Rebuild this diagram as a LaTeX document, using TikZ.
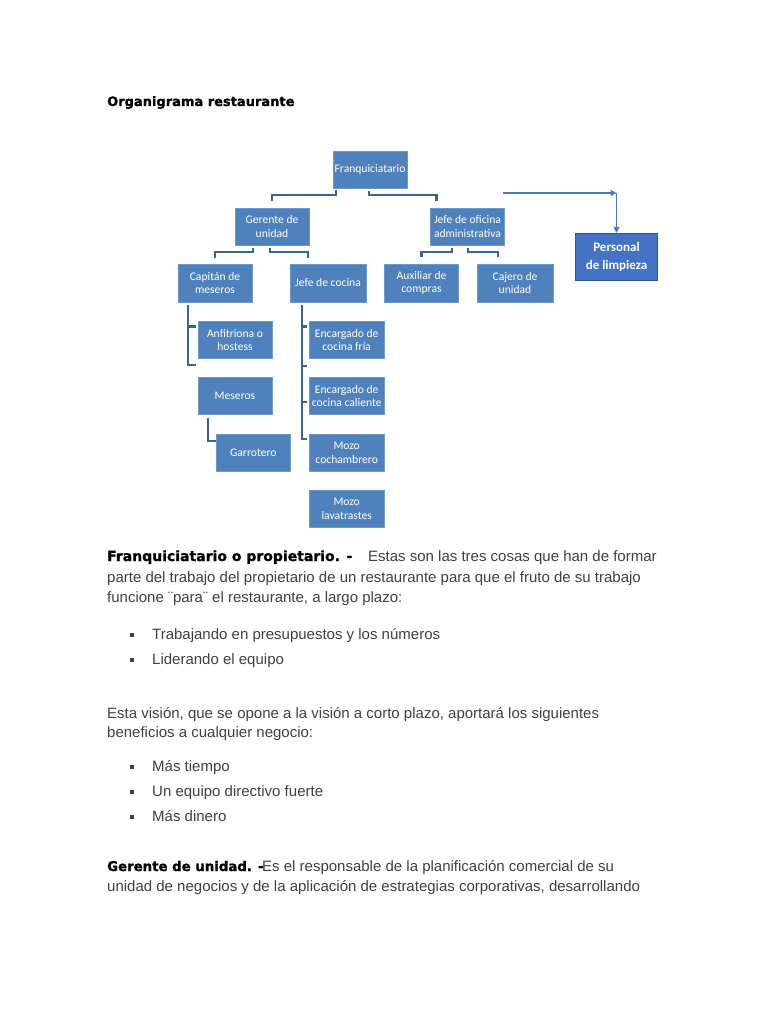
\documentclass[tikz,border=0pt]{standalone}
\usepackage{fontspec}
\setmainfont{Liberation Sans}
\newfontfamily\boxfont{Carlito}
\newfontfamily\headfont{DejaVu Sans}[BoldFeatures={FakeBold=1.3}]
\usetikzlibrary{calc,arrows.meta}
\definecolor{boxblue}{HTML}{4F81BD}
\definecolor{boxedge}{HTML}{6F97CB}
\definecolor{connblue}{HTML}{3B6496}
\definecolor{pfill}{HTML}{4472C4}
\definecolor{pedge}{HTML}{2F5597}
\definecolor{arrblue}{HTML}{4A78C8}
\definecolor{bodygrey}{HTML}{404040}
\begin{document}
\begin{tikzpicture}[x=1pt,y=-1pt,
  orgbox/.style={draw=boxedge, line width=0.6pt, fill=boxblue, text=white,
    font=\boxfont\fontsize{11.6}{13.4}\selectfont, align=center,
    minimum width=74pt, minimum height=37pt, inner sep=0.5pt},
  pbox/.style={draw=pedge, line width=1.4pt, fill=pfill, text=white,
    font=\boxfont\bfseries\fontsize{13}{18}\selectfont, align=center,
    minimum width=82pt, minimum height=47pt, inner sep=1pt},
  conn/.style={draw=connblue, line width=2.2pt},
  arr/.style={draw=arrblue, line width=1.1pt, -{Triangle[length=6pt,width=6pt]}},
  headtxt/.style={anchor=base west, inner sep=0pt, text=black,
    font=\headfont\bfseries\fontsize{13}{15}\selectfont},
  boldtxt/.style={anchor=base west, inner sep=0pt, text=black,
    font=\headfont\bfseries\fontsize{14}{16}\selectfont},
  bodytxt/.style={anchor=base west, inner sep=0pt, text=bodygrey,
    font=\fontsize{15}{18}\selectfont},
  bulletsq/.style={fill=bodygrey, minimum size=4pt, inner sep=0pt}
]
\useasboundingbox (0,0) rectangle (768,1024);
\fill[white] (0,0) rectangle (768,1024);

% title
\node[headtxt] (title) at (107,106) {Organigrama restaurante};

% chart boxes
\node[orgbox] (F) at (370,169.5) {Franquiciatario};
\node[orgbox] (G) at (272,226.5) {Gerente de\\unidad};
\node[orgbox] (J) at (467.5,226.5) {Jefe de oficina\\administrativa};
\node[orgbox, minimum height=38pt] (C) at (215,283) {Capitán de\\meseros};
\node[orgbox, minimum width=76pt, minimum height=38pt] (K) at (328,283) {Jefe de cocina};
\node[orgbox, minimum height=38pt] (A) at (421.5,283) {Auxiliar de\\compras};
\node[orgbox, minimum width=76pt, minimum height=38pt] (Ca) at (515,283) {Cajero de\\unidad};
\node[pbox] (P) at (616.5,257) {Personal\\de limpieza};

\node[orgbox, minimum height=36.6pt] (An) at (235,340) {Anfitriona o\\hostess};
\node[orgbox, minimum height=36.6pt] (Me) at (235,396) {Meseros};
\node[orgbox, minimum height=37.4pt] (Ga) at (253.3,453) {Garrotero};

\node[orgbox, minimum width=74.7pt, minimum height=36.6pt] (E1) at (346.7,340) {Encargado de\\cocina fría};
\node[orgbox, minimum width=74.7pt, minimum height=36.6pt] (E2) at (346.7,396) {Encargado de\\cocina caliente};
\node[orgbox, minimum width=74.7pt, minimum height=37.4pt] (E3) at (346.7,453) {Mozo\\cochambrero};
\node[orgbox, minimum width=74.7pt, minimum height=37.4pt] (E4) at (346.7,508.7) {Mozo\\lavatrastes};

% connectors (brackets)
\draw[conn] ($(F.south)+(-34,2)$) -- ++(0,5) -| ($(G.north)+(0,-7)$);
\draw[conn] ($(F.south)+(-1,3)$) -- ++(0,4) -| ($(J.north)+(-31,-7)$);
\draw[conn] ($(G.south)+(-19,3)$) -- ++(0,4) -| ($(C.north)+(0,-6)$);
\draw[conn] ($(G.south)+(-2,3)$) -- ++(0,4) -| ($(K.north)+(-20,-6)$);
\draw[conn] ($(J.south)+(-15.5,3)$) -- ++(0,4) -| ($(A.north)+(0,-7)$);
\draw[conn] ($(J.south)+(0.5,3)$) -- ++(0,4) -| ($(Ca.north)+(-17,-7)$);

\draw[conn] ($(C.south west)+(10,3)$) |- ($(An.south west)+(-2,6)$);
\draw[conn] ($(An.north west)+(-11,5)$) -- ($(An.north west)+(-2,5)$);

\draw[conn] ($(Me.south west)+(10,3)$) |- ($(Ga.west)+(0,-12)$);

\draw[conn] ($(K.south west)+(12,3)$) |- ($(E3.north west)+(-2,5)$);
\draw[conn] ($(E1.north west)+(-8,5)$) -- ($(E1.north west)+(-2,5)$);
\draw[conn] ($(E1.south west)+(-8,7)$) -- ($(E1.south west)+(-2,7)$);
\draw[conn] ($(E2.west)+(-8,6)$) -- ($(E2.west)+(-2,6)$);

% arrows to Personal de limpieza
\coordinate (a0) at (503,193);
\coordinate (a1) at (P.north |- a0);
\draw[arr] (a0) -- (a1);
\draw[arr] (a1) -- (P.north);

% body text
\node[boldtxt] (h1) at (107,561) {Franquiciatario o propietario. -};
\node[bodytxt] (l1) at (368,561) {Estas son las tres cosas que han de formar};
\node[bodytxt] (l2) at (107,582) {parte del trabajo del propietario de un restaurante para que el fruto de su trabajo};
\node[bodytxt] (l3) at (107,602) {funcione ¨para¨ el restaurante, a largo plazo:};

\node[bulletsq] (b1) at (132,634.5) {};
\node[bodytxt] (t1) at (152,639) {Trabajando en presupuestos y los números};
\node[bulletsq] (b2) at (132,659.5) {};
\node[bodytxt] (t2) at (152,664) {Liderando el equipo};

\node[bodytxt] (p1) at (107,718) {Esta visión, que se opone a la visión a corto plazo, aportará los siguientes};
\node[bodytxt] (p2) at (107,737) {beneficios a cualquier negocio:};

\node[bulletsq] (b3) at (132,766.5) {};
\node[bodytxt] (t3) at (152,771) {Más tiempo};
\node[bulletsq] (b4) at (132,791.5) {};
\node[bodytxt] (t4) at (152,796) {Un equipo directivo fuerte};
\node[bulletsq] (b5) at (132,816.5) {};
\node[bodytxt] (t5) at (152,821) {Más dinero};

\node[boldtxt, font=\headfont\bfseries\fontsize{13.3}{16}\selectfont] (h2) at (107,871) {Gerente de unidad. -};
\node[bodytxt] (g1) at (262,871) {Es el responsable de la planificación comercial de su};
\node[bodytxt] (g2) at (107,891) {unidad de negocios y de la aplicación de estrategias corporativas, desarrollando};
\end{tikzpicture}
\end{document}
